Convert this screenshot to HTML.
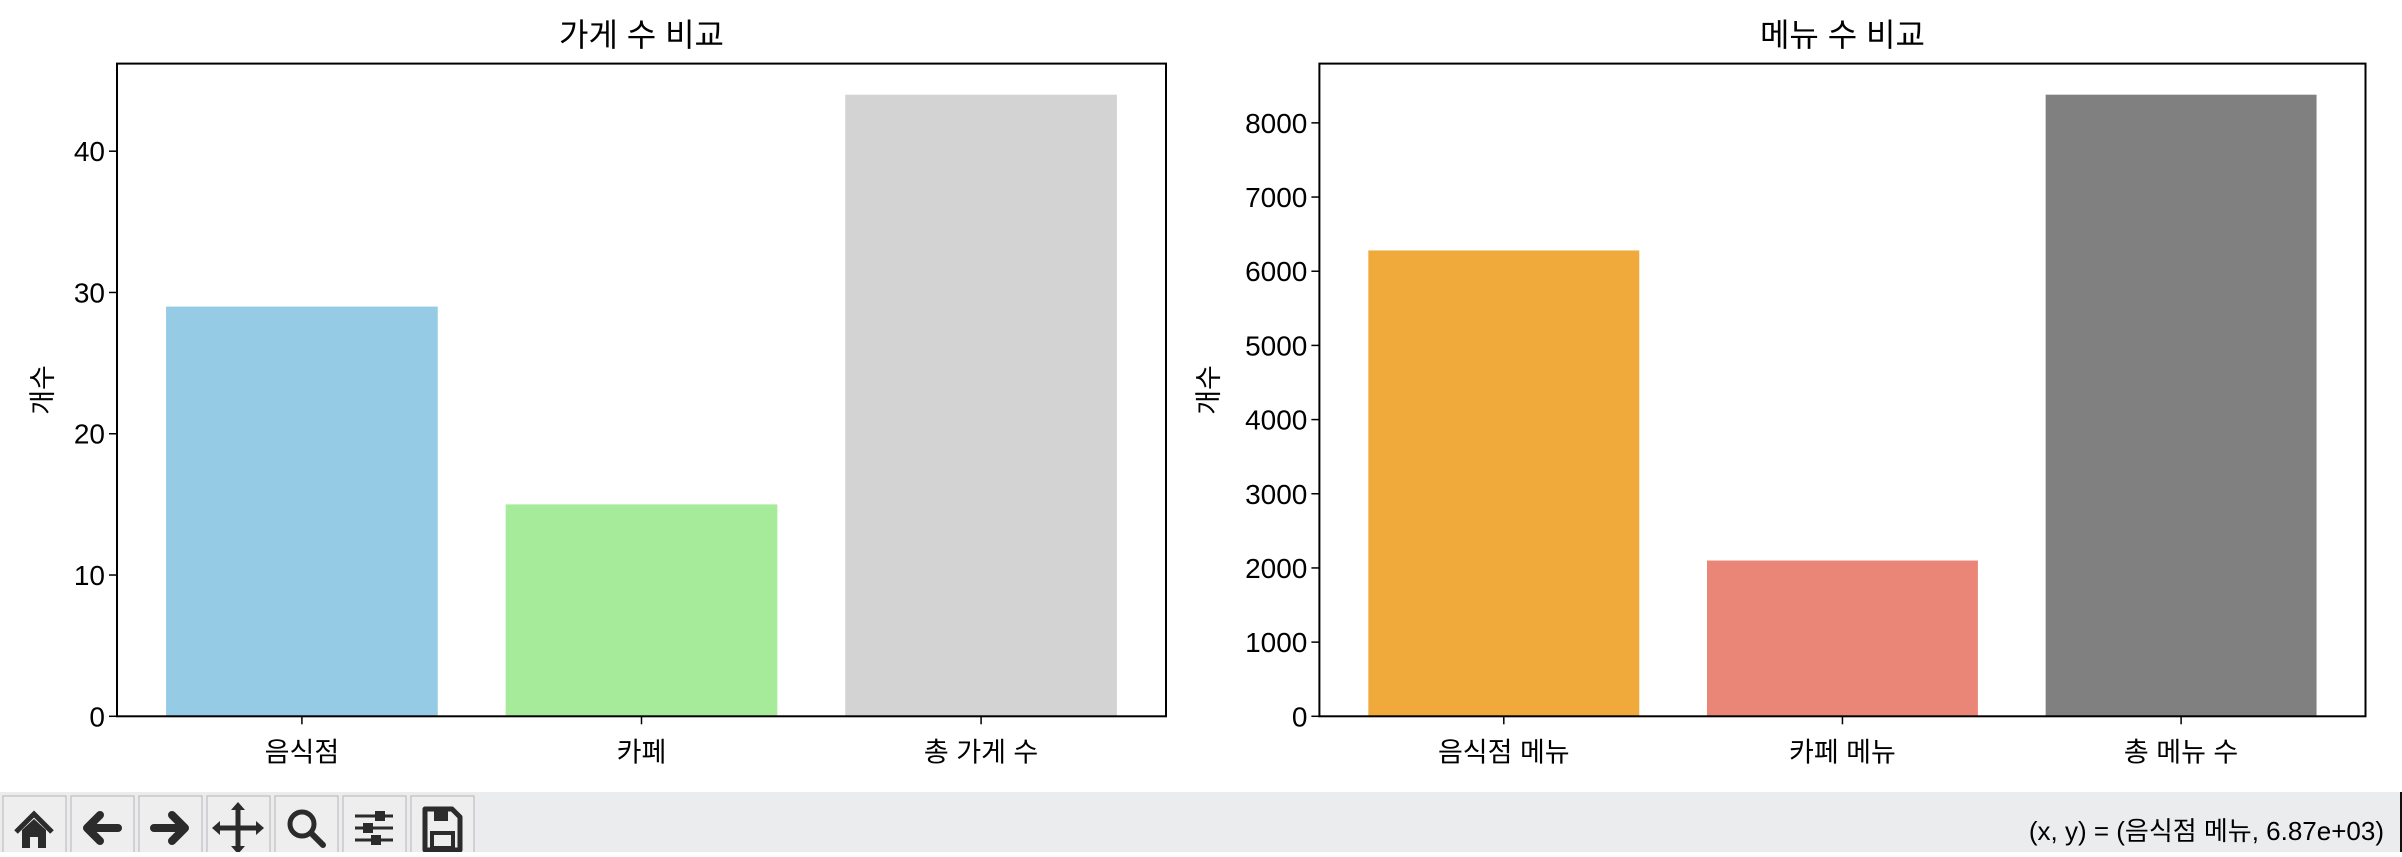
<!DOCTYPE html>
<html><head><meta charset="utf-8">
<style>
html,body{margin:0;padding:0;background:#fff;}
body{width:2402px;height:852px;overflow:hidden;position:relative;font-family:"Liberation Sans","Noto Sans CJK KR",sans-serif;}
svg text{font-family:"Liberation Sans","Noto Sans CJK KR",sans-serif;fill:#000;}
</style></head>
<body>
<svg id="fig" width="2402" height="852" xmlns="http://www.w3.org/2000/svg">
<rect x="0" y="792" width="2402" height="60" fill="#ebecee"/>
<rect x="2400" y="792" width="2" height="60" fill="#111"/>
<text x="2384" y="840" font-size="26" text-anchor="end" fill="#111">(x, y) = (음식점 메뉴, 6.87e+03)</text>
</svg>
<script>
const storeCategories = ['음식점', '카페', '총 가게 수'];
const storeValues = [29, 15, 44];
const storeTicks = [0, 10, 20, 30, 40];
const menuCategories = ['음식점 메뉴', '카페 메뉴', '총 메뉴 수'];
const menuValues = [6280, 2100, 8380];
const menuTicks = [0, 1000, 2000, 3000, 4000, 5000, 6000, 7000, 8000];

const NS = 'http://www.w3.org/2000/svg';
const svg = document.getElementById('fig');
function mk(tag, attrs, parent) {
  const e = document.createElementNS(NS, tag);
  for (const k in attrs) e.setAttribute(k, attrs[k]);
  (parent || svg).appendChild(e);
  return e;
}

function drawChart(cfg) {
  const g = mk('g', {});
  
  
  const L = cfg.left, R = cfg.right, T = 63.6, B = 716.3;
  const ymax = Math.max(...cfg.values) * 1.05;
  const y = v => B - v / ymax * (B - T);
  const step = (R - L) / 3.089;
  const c0 = L + (R - L) / 2 - step;
  const x = i => c0 + i * step;
  const bw = step * 0.8;
  cfg.values.forEach((v, i) => {
    const r = mk('rect', {x: x(i) - bw / 2, y: y(v), width: bw, height: B - y(v), fill: cfg.colors[i]}, g);
    
    
  });
  cfg.ticks.forEach(t => {
    mk('line', {x1: L - 8, x2: L, y1: y(t), y2: y(t), stroke: '#000', 'stroke-width': 1.5}, g);
    const tx = mk('text', {x: L - 12, y: y(t) + 10, 'font-size': 28, 'text-anchor': 'end'}, g);
    tx.textContent = t;
    
    
  });
  cfg.categories.forEach((c, i) => {
    mk('line', {x1: x(i), x2: x(i), y1: B, y2: B + 8, stroke: '#000', 'stroke-width': 1.5}, g);
    const tx = mk('text', {x: x(i), y: B + 45, 'font-size': 27, 'text-anchor': 'middle'}, g);
    tx.textContent = c;
    
    
  });
  const fr = mk('rect', {x: L, y: T, width: R - L, height: B - T, fill: 'none', stroke: '#000', 'stroke-width': 2}, g);
  
  
  const ti = mk('text', {x: (L + R) / 2, y: 46, 'font-size': 32, 'text-anchor': 'middle'}, g);
  ti.textContent = cfg.title;
  
  
  const yl = mk('text', {x: 0, y: 0, 'font-size': 27, 'text-anchor': 'middle', transform: 'translate(' + cfg.ylx + ',' + ((T + B) / 2) + ') rotate(-90)'}, g);
  yl.textContent = '개수';
  
  
}

drawChart({name: 'store-count-chart', short: 'store', left: 117, right: 1166, categories: storeCategories, values: storeValues, ticks: storeTicks, colors: ['#96cbe6', '#a6eb99', '#d3d3d3'], title: '가게 수 비교', ylx: 52});
drawChart({name: 'menu-count-chart', short: 'menu', left: 1319.4, right: 2365.5, categories: menuCategories, values: menuValues, ticks: menuTicks, colors: ['#f0a93b', '#ea8677', '#808080'], title: '메뉴 수 비교', ylx: 1218});

// toolbar buttons
const icons = ['home', 'back', 'forward', 'pan', 'zoom', 'configure', 'save'];
icons.forEach((n, i) => {
  const bx = 3 + i * 68;
  const b = mk('g', {});
  
  
  mk('rect', {x: bx, y: 796, width: 63, height: 60, fill: '#eeeeee', stroke: '#b5b5b5', 'stroke-width': 1}, b);
  const cx = bx + 31, cy = 828, col = '#2b2b2b';
  if (n === 'home') {
    mk('path', {d: `M${cx-18} ${cy+4} L${cx} ${cy-14} L${cx+18} ${cy+4}`, stroke: col, 'stroke-width': 5, fill: 'none'}, b);
    mk('path', {d: `M${cx-12} ${cy+2} L${cx} ${cy-9} L${cx+12} ${cy+2} V${cy+20} H${cx+4} V${cy+9} H${cx-4} V${cy+20} H${cx-12} Z`, fill: col}, b);
  } else if (n === 'back' || n === 'forward') {
    const s = n === 'back' ? 1 : -1;
    mk('path', {d: `M${cx+16*s} ${cy} H${cx-14*s} M${cx-2*s} ${cy-13} L${cx-15*s} ${cy} L${cx-2*s} ${cy+13}`, stroke: col, 'stroke-width': 8, 'stroke-linecap': 'round', 'stroke-linejoin': 'round', fill: 'none'}, b);
  } else if (n === 'pan') {
    mk('path', {d: `M${cx} ${cy-20} V${cy+20} M${cx-20} ${cy} H${cx+20}`, stroke: col, 'stroke-width': 5}, b);
    mk('path', {d: `M${cx} ${cy-26} l-7 8 h14z M${cx} ${cy+26} l-7 -8 h14z M${cx-26} ${cy} l8 -7 v14z M${cx+26} ${cy} l-8 -7 v14z`, fill: col}, b);
  } else if (n === 'zoom') {
    mk('circle', {cx: cx - 4, cy: cy - 4, r: 12, stroke: col, 'stroke-width': 5, fill: 'none'}, b);
    mk('line', {x1: cx + 5, y1: cy + 5, x2: cx + 17, y2: cy + 17, stroke: col, 'stroke-width': 6, 'stroke-linecap': 'round'}, b);
  } else if (n === 'configure') {
    [[-12, 6], [0, -6], [12, 2]].forEach(([dy, dx]) => {
      mk('line', {x1: cx - 19, x2: cx + 19, y1: cy + dy, y2: cy + dy, stroke: col, 'stroke-width': 3}, b);
      mk('rect', {x: cx + dx - 5, y: cy + dy - 5, width: 10, height: 10, fill: col}, b);
    });
  } else {
    mk('path', {d: `M${cx-17} ${cy-19} H${cx+10} L${cx+18} ${cy-11} V${cy+22} H${cx-17} Z`, stroke: col, 'stroke-width': 5, fill: 'none', 'stroke-linejoin': 'round'}, b);
    mk('rect', {x: cx - 8, y: cy - 19, width: 14, height: 12, fill: col}, b);
    mk('rect', {x: cx - 10, y: cy + 5, width: 21, height: 15, stroke: col, 'stroke-width': 4, fill: 'none'}, b);
  }
});
</script>
</body></html>
